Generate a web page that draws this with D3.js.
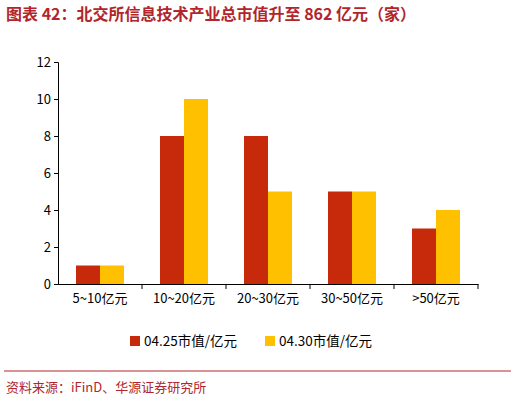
<!DOCTYPE html><html><head><meta charset="utf-8"><script src="https://d3js.org/d3.v7.min.js"></script>
<style>body{margin:0;background:#fff}</style></head><body><svg id="c" width="515" height="406"></svg>
<script>
const categories=["5~10亿元","10~20亿元","20~30亿元","30~50亿元",">50亿元"];
const series1=[1,8,8,5,3];
const series2=[1,10,5,5,4];
const seriesNames=["04.25市值/亿元","04.30市值/亿元"];
const yTicks=[0,2,4,6,8,10,12];
const colors=["#C62A0A","#FFC000"];
const svg=d3.select("#c");
const font="'Noto Sans CJK SC','Noto Sans',sans-serif";
svg.append("text").attr("x",6).attr("y",20).attr("font-family",font).attr("font-weight","bold").attr("font-size",16).attr("fill","#B2262B").text("图表 42：北交所信息技术产业总市值升至 862 亿元（家）");
svg.append("line").attr("x1",4).attr("x2",511).attr("y1",371).attr("y2",371).attr("stroke","#B2262B").attr("stroke-width",1);
svg.append("text").attr("x",6).attr("y",392).attr("font-family",font).attr("font-size",13).attr("fill","#B2262B").text("资料来源：iFinD、华源证券研究所");
const x=d3.scaleBand().domain(categories).range([58,478]);
const y=d3.scaleLinear().domain([0,12]).range([284,62]);
const g=svg.append("g");
const bw=24;
categories.forEach((c,i)=>{
 const cx=x(c)+x.bandwidth()/2;
 [series1,series2].forEach((s,j)=>{
  g.append("rect").attr("x",cx-bw+j*bw).attr("y",y(s[i])).attr("width",bw).attr("height",y(0)-y(s[i])).attr("fill",colors[j]);
 });
});
const ya=svg.append("g").attr("transform","translate(58,0)").call(d3.axisLeft(y).tickValues(yTicks).tickSize(4));
const xa=svg.append("g").attr("transform","translate(0,284)").call(d3.axisBottom(x).tickSize(0).tickPadding(10));
[ya,xa].forEach(a=>{a.selectAll("path,line").attr("stroke","#000");a.selectAll("text").attr("font-family",font).attr("font-size",13).attr("fill","#000");});
xa.selectAll(".tick").append("line").attr("x1",x.bandwidth()/2).attr("x2",x.bandwidth()/2).attr("y2",5).attr("stroke","#000");
const lx=[130,265];
seriesNames.forEach((n,i)=>{
 svg.append("rect").attr("x",lx[i]).attr("y",336).attr("width",10).attr("height",10).attr("fill",colors[i]);
 svg.append("text").attr("x",lx[i]+14).attr("y",346).attr("font-family",font).attr("font-size",13.5).attr("fill","#000").text(n);
});
</script></body></html>
